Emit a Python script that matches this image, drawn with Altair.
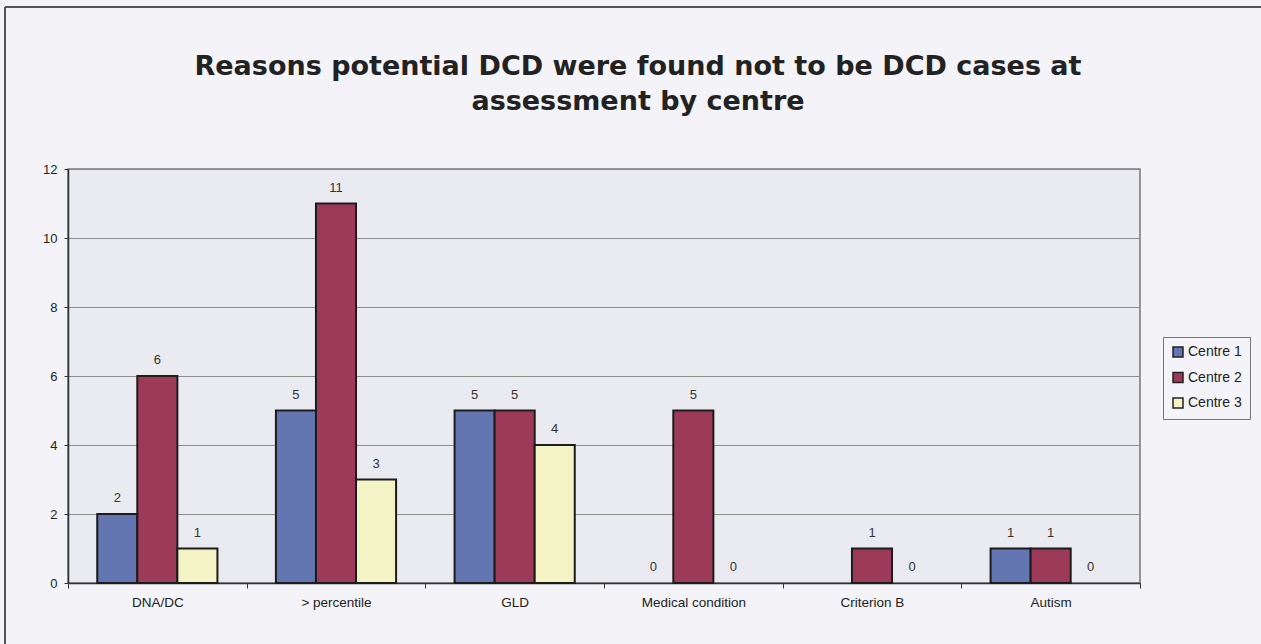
import altair as alt
import pandas as pd

categories = ["DNA/DC", "> percentile", "GLD", "Medical condition", "Criterion B", "Autism"]
centres = ["Centre 1", "Centre 2", "Centre 3"]
centre1 = [2, 5, 5, 0, None, 1]
centre2 = [6, 11, 5, 5, 1, 1]
centre3 = [1, 3, 4, 0, 0, 0]
colors = ["#6476b2", "#9e3a59", "#f3f3c6"]
y_ticks = [0, 2, 4, 6, 8, 10, 12]

rows = []
for name, vals in zip(centres, [centre1, centre2, centre3]):
    for c, v in zip(categories, vals):
        rows.append({"category": c, "centre": name, "value": v})
df = pd.DataFrame(rows)

FONT = "Liberation Sans"

x_enc = alt.X(
    "category:N",
    sort=categories,
    scale=alt.Scale(paddingInner=0, paddingOuter=0),
    axis=alt.Axis(
        title=None, labelAngle=0, tickBand="extent", tickSize=5,
        tickColor="#333", domainColor="#333", domainWidth=1.5,
        labelFont=FONT, labelFontSize=13.5, labelColor="#222", labelPadding=7,
        grid=False,
    ),
)
xoff = alt.XOffset("centre:N", sort=centres, scale=alt.Scale(paddingOuter=0.73, paddingInner=0))
y_enc = alt.Y(
    "value:Q",
    scale=alt.Scale(domain=[0, 12], nice=False),
    axis=alt.Axis(
        values=y_ticks, title=None, grid=True, gridColor="#8c8c8c", gridWidth=1,
        tickSize=4, tickColor="#333", domainColor="#333", domainWidth=1.5,
        labelFont=FONT, labelFontSize=13, labelColor="#222", labelPadding=7,
    ),
)

base = alt.Chart(df).transform_filter("isValid(datum.value)")

bars = base.transform_filter("datum.value > 0").mark_bar(stroke="#1c1c1c", strokeWidth=2).encode(
    x=x_enc,
    xOffset=xoff,
    y=y_enc,
    color=alt.Color(
        "centre:N",
        scale=alt.Scale(domain=centres, range=colors),
        legend=alt.Legend(
            title=None, orient="none", legendX=1095, legendY=168,
            symbolType="square", symbolSize=100, symbolStrokeColor="#222",
            symbolStrokeWidth=1.5, strokeColor="#777", padding=8,
            labelFont=FONT, labelFontSize=14, labelColor="#222", rowPadding=9.5,
            labelOffset=3,
        ),
    ),
)

labels = base.mark_text(dy=-16, fontSize=13, font=FONT, color="#333").encode(
    x=x_enc, xOffset=xoff, y=y_enc, text=alt.Text("value:Q", format="d")
)

frame_df = pd.DataFrame({"k": [0]})
frame_left = alt.Chart(frame_df).mark_rule(color="#555", strokeWidth=2).encode(
    x=alt.value(-63), y=alt.value(-162), y2=alt.value(475)
)
frame_top = alt.Chart(frame_df).mark_rule(color="#555", strokeWidth=2).encode(
    x=alt.value(-63), x2=alt.value(1193), y=alt.value(-162)
)

chart = alt.layer(bars, labels, frame_left, frame_top).properties(
    width=1072,
    height=414,
    padding={"left": 68, "top": 169, "right": 121, "bottom": 61},
    autosize=alt.AutoSizeParams(type="none"),
    background="#f3f3f8",
    title=alt.TitleParams(
        text=["Reasons potential DCD were found not to be DCD cases at", "assessment by centre"],
        font="DejaVu Sans", fontSize=27, fontWeight="bold", color="#222",
        anchor="middle", dx=34, offset=-110, lineHeight=35, frame="group",
    ),
).configure_view(fill="#eaeaf1", stroke="#777", strokeWidth=1.5)

chart.save("out.html", embed_options={"renderer": "svg", "actions": False})
